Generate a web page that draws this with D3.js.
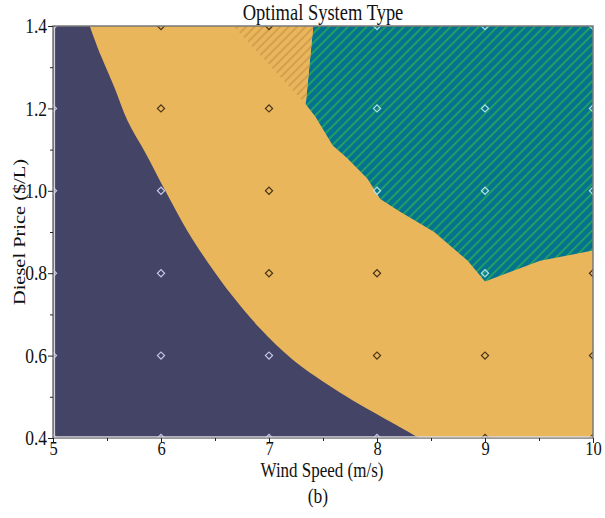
<!DOCTYPE html>
<html>
<head>
<meta charset="utf-8">
<script src="https://cdn.jsdelivr.net/npm/d3@7"></script>
<style>
  html, body { margin: 0; padding: 0; background: #fff; }
  svg { display: block; }
  text { font-family: "Liberation Serif", "Times New Roman", serif; fill: #111; }
</style>
</head>
<body>
<div id="chart"></div>
<script>
// ---- data ----
const windTicks = [5, 6, 7, 8, 9, 10];
const priceTicks = [0.4, 0.6, 0.8, 1.0, 1.2, 1.4];
const windMinor = [5.5, 6.5, 7.5, 8.5, 9.5];
const priceMinor = [0.5, 0.7, 0.9, 1.1, 1.3];

// boundary between diesel-only region (navy) and hybrid region (orange), top to bottom
const navyBoundaryWind  = [5.34, 5.44, 5.57, 5.69, 5.86, 6.04, 6.25, 6.45, 6.66, 6.92, 7.22, 7.66, 8.12, 8.39];
const navyBoundaryPrice = [1.40, 1.33, 1.25, 1.17, 1.09, 1.00, 0.90, 0.82, 0.745, 0.665, 0.59, 0.51, 0.44, 0.40];

// boundary of the wind-dominated region (teal, hatched), left to right
const tealBoundaryWind  = [7.41, 7.38, 7.34, 7.43, 7.59, 7.72, 7.91, 8.03, 8.21, 8.53, 8.84, 9.00, 9.51, 10.0];
const tealBoundaryPrice = [1.40, 1.32, 1.21, 1.18, 1.11, 1.08, 1.03, 0.98, 0.95, 0.90, 0.83, 0.78, 0.83, 0.855];

// hatched part of the hybrid region
const hatchWind  = [6.67, 7.41, 7.34];
const hatchPrice = [1.40, 1.40, 1.21];

// optimal system type at each simulated grid point (rows = price high→low, cols = wind 5..10)
// 0 = diesel, 1 = hybrid, 2 = hybrid (hatched), 3 = wind
const gridPrices = [1.4, 1.2, 1.0, 0.8, 0.6, 0.4];
const gridWinds  = [5, 6, 7, 8, 9, 10];
const gridTypes = [
  [0, 1, 2, 3, 3, 3],
  [0, 1, 1, 3, 3, 3],
  [0, 0, 1, 3, 3, 3],
  [0, 0, 1, 1, 3, 1],
  [0, 0, 0, 1, 1, 1],
  [0, 0, 0, 0, 1, 1]
];

// ---- layout ----
const W = 605, H = 518;
const pL = 53, pR = 593, pT = 26, pB = 438;
const STRETCH = 1.2; // the reference text is vertically elongated

const svg = d3.select("#chart").append("svg").attr("width", W).attr("height", H);

const x = d3.scaleLinear().domain([5, 10]).range([pL, pR]);
const y = d3.scaleLinear().domain([0.4, 1.4]).range([pB, pT]);

const defs = svg.append("defs");
defs.append("clipPath").attr("id", "plotclip")
  .append("rect").attr("x", pL).attr("y", pT).attr("width", pR - pL).attr("height", pB - pT);

const tealPat = defs.append("pattern").attr("id", "tealHatch")
  .attr("patternUnits", "userSpaceOnUse").attr("width", 6.6).attr("height", 6.6)
  .attr("patternTransform", "rotate(45)");
tealPat.append("rect").attr("width", 6.6).attr("height", 6.6).attr("fill", "#05738f");
tealPat.append("line").attr("x1", 1).attr("y1", 0).attr("x2", 1).attr("y2", 6.6)
  .attr("stroke", "#22a060").attr("stroke-width", 1.9);

const orPat = defs.append("pattern").attr("id", "orangeHatch")
  .attr("patternUnits", "userSpaceOnUse").attr("width", 6).attr("height", 6)
  .attr("patternTransform", "rotate(45)");
orPat.append("rect").attr("width", 6).attr("height", 6).attr("fill", "#e9b65b");
orPat.append("line").attr("x1", 1).attr("y1", 0).attr("x2", 1).attr("y2", 6)
  .attr("stroke", "#c08b40").attr("stroke-width", 1);

const plot = svg.append("g").attr("clip-path", "url(#plotclip)");
const lineLin = d3.line().x(d => x(d[0])).y(d => y(d[1]));
const lineSmooth = d3.line().x(d => x(d[0])).y(d => y(d[1])).curve(d3.curveCatmullRom.alpha(0.5));

// hybrid (background)
plot.append("rect").attr("x", x(5)).attr("y", y(1.4))
  .attr("width", x(10) - x(5)).attr("height", y(0.4) - y(1.4)).attr("fill", "#e9b65b");

// navy diesel region
const navyB = navyBoundaryWind.map((w, i) => [w, navyBoundaryPrice[i]]);
plot.append("path")
  .attr("d", lineSmooth(navyB) + `L${x(5) - 2},${y(0.4) + 2}L${x(5) - 2},${y(1.4) - 2}Z`)
  .attr("fill", "#434466");

// teal wind region
const tealPts = tealBoundaryWind.map((w, i) => [w, tealBoundaryPrice[i]]).concat([[10, 1.4]]);
plot.append("path").attr("d", lineLin(tealPts) + "Z").attr("fill", "url(#tealHatch)");

// hatched hybrid region
const hatchPts = hatchWind.map((w, i) => [w, hatchPrice[i]]);
plot.append("path").attr("d", lineLin(hatchPts) + "Z").attr("fill", "url(#orangeHatch)");

// grid markers
const markerColor = t => t === 0 ? "#c4c6ea" : (t === 3 ? "#b0e2ea" : "#4a3418");
const pts = [];
gridPrices.forEach((p, r) => gridWinds.forEach((w, c) => pts.push({w, p, t: gridTypes[r][c]})));
plot.selectAll("path.mk").data(pts).enter().append("path")
  .attr("class", "mk")
  .attr("d", d3.symbol().type(d3.symbolSquare).size(26))
  .attr("transform", d => `translate(${x(d.w)},${y(d.p)}) rotate(45)`)
  .attr("fill", "none")
  .attr("stroke", d => markerColor(d.t))
  .attr("stroke-width", 1.2);

// frame
svg.append("rect").attr("x", pL).attr("y", pT).attr("width", pR - pL).attr("height", pB - pT)
  .attr("fill", "none").attr("stroke", "#7a7a7a").attr("stroke-width", 1.5);
svg.append("line").attr("x1", pL + 1.5).attr("x2", pL + 1.5).attr("y1", pT + 1).attr("y2", pB - 1)
  .attr("stroke", "#d4d4e4").attr("stroke-width", 1.2);
svg.append("line").attr("x1", pL + 1).attr("x2", pR - 1).attr("y1", pB - 1.2).attr("y2", pB - 1.2)
  .attr("stroke", "#d8d8e0").attr("stroke-width", 1.2);

// axes
const xAxis = d3.axisBottom(x).tickValues(windTicks).tickFormat(d3.format("d")).tickSize(5).tickPadding(0);
const gx = svg.append("g").attr("transform", `translate(0,${pB})`).call(xAxis);
gx.select(".domain").remove();
gx.selectAll("text").style("font-size", "16.5px").attr("y", 2.5)
  .attr("transform", `scale(1,${STRETCH})`);
gx.selectAll("line").attr("stroke", "#222");
const xMinor = d3.axisBottom(x).tickValues(windMinor).tickFormat("").tickSize(3);
const gxm = svg.append("g").attr("transform", `translate(0,${pB})`).call(xMinor);
gxm.select(".domain").remove();
gxm.selectAll("line").attr("stroke", "#222");

const yAxis = d3.axisLeft(y).tickValues(priceTicks).tickFormat(d3.format(".1f")).tickSize(5).tickPadding(1);
const gy = svg.append("g").attr("transform", `translate(${pL},0)`).call(yAxis);
gy.select(".domain").remove();
gy.selectAll("text").style("font-size", "17.5px").attr("transform", `scale(1,${STRETCH})`);
gy.selectAll("line").attr("stroke", "#222");
const yMinor = d3.axisLeft(y).tickValues(priceMinor).tickFormat("").tickSize(3);
const gym = svg.append("g").attr("transform", `translate(${pL},0)`).call(yMinor);
gym.select(".domain").remove();
gym.selectAll("line").attr("stroke", "#222");

// titles
function label(tx, ty, str, size, rot) {
  const r = rot ? ` rotate(${rot})` : "";
  svg.append("text")
    .attr("transform", `translate(${tx},${ty})${r} scale(${rot ? STRETCH : 1},${rot ? 1 : STRETCH})`)
    .attr("text-anchor", "middle").style("font-size", size + "px").text(str);
}
label(323, 20, "Optimal System Type", 18.5);
label(322, 477, "Wind Speed (m/s)", 17);
label(25, 232, "Diesel Price ($/L)", 17, -90);
label(318, 503, "(b)", 17.5);
</script>
</body>
</html>
